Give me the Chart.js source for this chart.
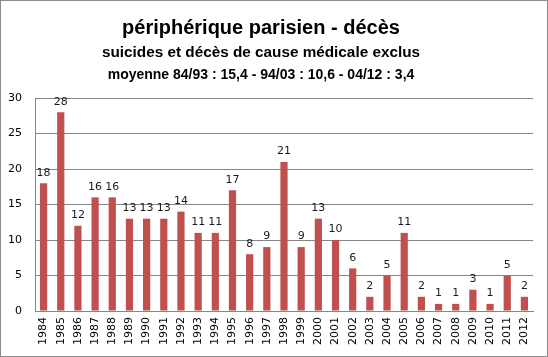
<!DOCTYPE html>
<html><head><meta charset="utf-8">
<script src="https://cdn.jsdelivr.net/npm/chart.js@4/dist/chart.umd.min.js"></script>
<style>
html,body{margin:0;padding:0;background:#fff;}
#wrap{position:relative;width:548px;height:357px;box-sizing:border-box;border:1px solid #8c8c8c;}
canvas{display:block;}
</style></head>
<body><div id="wrap"><canvas id="c" width="546" height="355"></canvas></div>
<script>
const years = ["1984","1985","1986","1987","1988","1989","1990","1991","1992","1993","1994","1995","1996","1997","1998","1999","2000","2001","2002","2003","2004","2005","2006","2007","2008","2009","2010","2011","2012"];
const deaths = [18,28,12,16,16,13,13,13,14,11,11,17,8,9,21,9,13,10,6,2,5,11,2,1,1,3,1,5,2];
const titleLines = ["périphérique parisien - décès","suicides et décès de cause médicale exclus","moyenne 84/93 : 15,4 - 94/03 : 10,6 - 04/12 : 3,4"];

const headerPlugin = {
  id:'header',
  afterDraw(chart){
    const ctx = chart.ctx;
    ctx.save();
    ctx.fillStyle = '#000';
    ctx.textAlign = 'center';
    ctx.textBaseline = 'alphabetic';
    const cx = 260;
    ctx.font = 'bold 20px "Liberation Sans", Arial, sans-serif';
    ctx.fillText(titleLines[0], cx, 33);
    ctx.font = 'bold 15.3px "Liberation Sans", Arial, sans-serif';
    ctx.fillText(titleLines[1], cx, 56);
    ctx.font = 'bold 14px "Liberation Sans", Arial, sans-serif';
    ctx.fillText(titleLines[2], cx, 78);
    ctx.restore();
  }
};
const valueLabels = {
  id:'valueLabels',
  afterDatasetsDraw(chart){
    const ctx = chart.ctx;
    const meta = chart.getDatasetMeta(0);
    ctx.save();
    ctx.font = '11px "DejaVu Sans", Verdana, sans-serif';
    ctx.fillStyle = '#1a1a1a';
    ctx.textAlign = 'center';
    ctx.textBaseline = 'bottom';
    meta.data.forEach((el,i)=>{
      ctx.fillText(String(deaths[i]), el.x, el.y - 5);
    });
    ctx.restore();
  }
};

new Chart(document.getElementById('c'), {
  type:'bar',
  data:{labels:years, datasets:[{data:deaths, backgroundColor:'#c0504d', borderWidth:0, barPercentage:0.42, categoryPercentage:1.0}]},
  options:{
    responsive:false, animation:false,
    layout:{padding:{top:97,right:14,left:0,bottom:0}},
    plugins:{legend:{display:false}, title:{display:false}, tooltip:{enabled:false}},
    scales:{
      x:{
        grid:{display:false, drawTicks:false},
        border:{display:true,color:'#868686'},
        ticks:{maxRotation:90,minRotation:90,autoSkip:false,padding:6,color:'#000',font:{family:'"DejaVu Sans", Verdana, sans-serif',size:11}},
        afterFit(s){s.height=45;}
      },
      y:{
        min:0,max:30,
        grid:{color:'#868686',drawTicks:false},
        border:{display:true,color:'#868686'},
        ticks:{stepSize:5,padding:13,color:'#000',font:{family:'"DejaVu Sans", Verdana, sans-serif',size:11}},
        afterFit(s){s.width=34;}
      }
    }
  },
  plugins:[headerPlugin,valueLabels]
});
</script></body></html>
